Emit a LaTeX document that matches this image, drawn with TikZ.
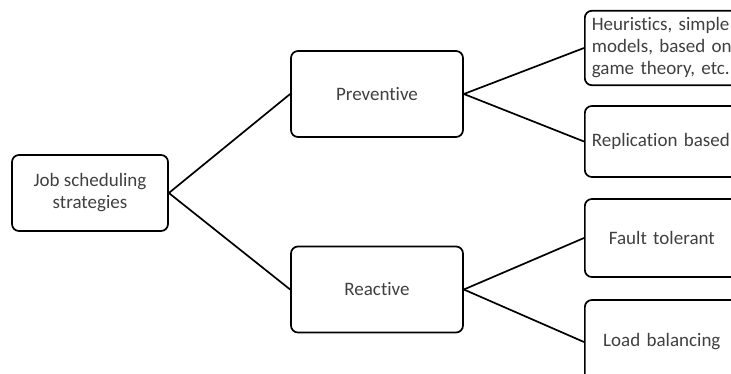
\documentclass[tikz,border=0pt]{standalone}
\usepackage{fontspec}
\setmainfont{Carlito}[RawFeature=-liga]
\usepackage{tikz}
\usetikzlibrary{calc}
\tikzset{
  box/.style={draw=black, line width=1.7pt, rounded corners=7pt, fill=white,
    text=black!75, font=\fontsize{19}{22}\selectfont, inner sep=7pt},
  midbox/.style={box, minimum width=172pt, minimum height=86pt},
  leafbox/.style={box, minimum width=154pt, text width=140pt}
}
\begin{document}
\begin{tikzpicture}[x=1pt, y=-1pt]
\useasboundingbox (0,0) rectangle (731,374);
\clip (0,0) rectangle (731,374);
% root
\node[box, minimum width=156pt, minimum height=76pt, align=center] (jobs) at (90,193) {Job scheduling\\strategies};
% second level
\node[midbox] (prev) at (377,94) {Preventive};
\node[midbox] (react) at (377,289.5) {Reactive};
% leaves
\node[leafbox, minimum height=70pt, align=left, anchor=west] (heur) at (584,48) {Heuristics, simple\\models, based on\\game theory, etc.};
\node[leafbox, minimum height=71pt, align=left, anchor=west] (repl) at (584,141.5) {Replication based};
\node[leafbox, minimum height=78pt, align=center, anchor=west] (fault) at (584,238) {Fault tolerant};
\node[leafbox, minimum height=84pt, align=center, anchor=west] (load) at (584,342) {Load balancing};
% connectors
\draw[line width=1.7pt] (jobs.east) -- (prev.west);
\draw[line width=1.7pt] (jobs.east) -- (react.west);
\draw[line width=1.7pt] (prev.east) -- (heur.west);
\draw[line width=1.7pt] (prev.east) -- (repl.west);
\draw[line width=1.7pt] (react.east) -- (fault.west);
\draw[line width=1.7pt] (react.east) -- (load.west);
\end{tikzpicture}
\end{document}
